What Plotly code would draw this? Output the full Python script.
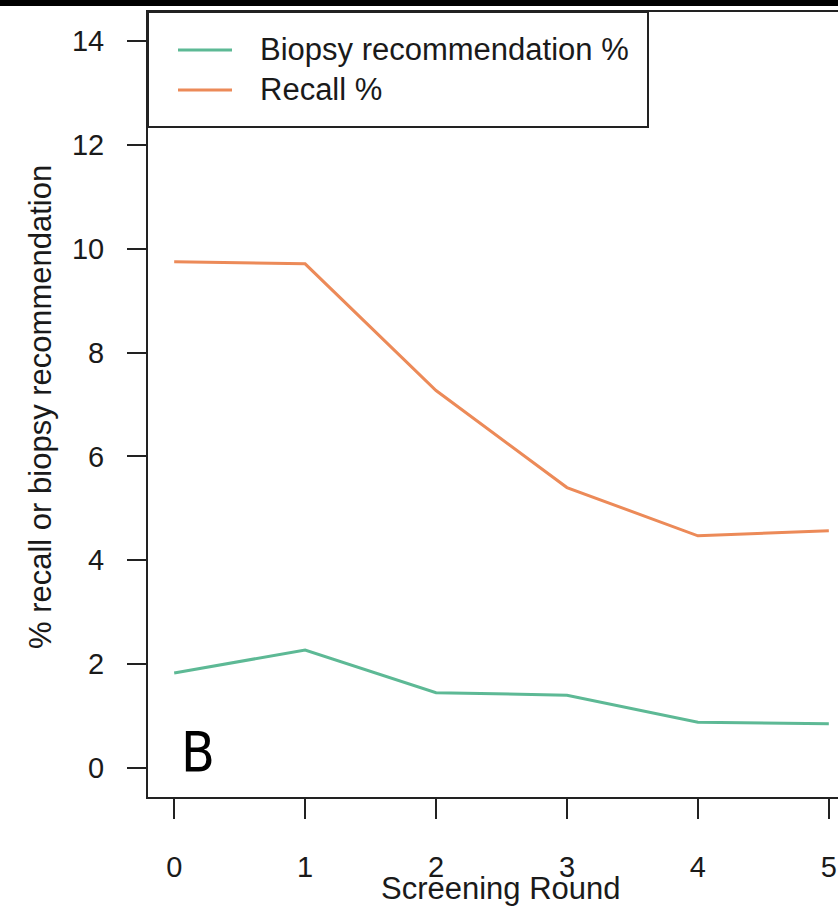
import plotly.graph_objects as go

rounds = [0, 1, 2, 3, 4, 5]
biopsy_pct = [1.83, 2.27, 1.45, 1.40, 0.88, 0.85]
recall_pct = [9.75, 9.71, 7.27, 5.40, 4.47, 4.57]
series_names = ["Biopsy recommendation %", "Recall %"]
series_colors = ["#5db995", "#ec8a58"]
y_ticks = [0, 2, 4, 6, 8, 10, 12, 14]
x_ticks = [0, 1, 2, 3, 4, 5]

FONT = "Liberation Sans, Arial, Helvetica, sans-serif"
W = 690.0   # plot area width in px
H = 785.0   # plot area height in px

fig = go.Figure()
for name, vals, col in zip(series_names, [biopsy_pct, recall_pct], series_colors):
    fig.add_trace(go.Scatter(x=rounds, y=vals, mode="lines", name=name,
                             line=dict(color=col, width=3), showlegend=False))

fig.update_layout(
    width=838, height=906,
    margin=dict(l=148, r=0, t=12, b=109, autoexpand=False),
    paper_bgcolor="white", plot_bgcolor="white",
    font=dict(family=FONT, size=29, color="#1a1a1a"),
    xaxis=dict(range=[-0.2, 5.07], tickvals=x_ticks, showgrid=False, zeroline=False,
               automargin=False,
               showline=True, linecolor="#222", linewidth=2, mirror=True,
               ticks="outside", ticklen=20, tickwidth=2, tickcolor="#222",
               ticklabelstandoff=23),
    yaxis=dict(range=[-0.56, 14.56], tickvals=y_ticks, showgrid=False, zeroline=False,
               automargin=False,
               showline=True, linecolor="#222", linewidth=2,
               ticks="outside", ticklen=19, tickwidth=2, tickcolor="#222",
               ticklabelstandoff=17),
)

# axis titles
fig.add_annotation(xref="paper", yref="paper", x=(501 - 148) / W, y=-91 / H,
                   text="Screening Round", showarrow=False,
                   xanchor="center", yanchor="middle",
                   font=dict(size=31, family=FONT, color="#1a1a1a"))
fig.add_annotation(xref="paper", yref="paper", x=(40 - 148) / W, y=1 - (407 - 12) / H,
                   text="% recall or biopsy recommendation", showarrow=False, textangle=-90,
                   xanchor="center", yanchor="middle",
                   font=dict(size=31, family=FONT, color="#1a1a1a"))

# black strip at the very top of the image
fig.add_shape(type="rect", xref="paper", yref="paper", x0=-0.3, x1=1.0,
              y0=1 + 6/H, y1=1 + 12/H, fillcolor="black", line_width=0, layer="above")

# legend box (manual, R-style)
fig.add_shape(type="rect", xref="paper", yref="paper",
              x0=0, x1=500/W, y0=1 - 115/H, y1=1,
              line=dict(color="#222", width=2), fillcolor="white", layer="above")
for i, (name, col) in enumerate(zip(series_names, series_colors)):
    ypix = 38 + 40*i
    yy = 1 - ypix/H
    fig.add_shape(type="line", xref="paper", yref="paper",
                  x0=30/W, x1=84/W, y0=yy, y1=yy,
                  line=dict(color=col, width=3), layer="above")
    fig.add_annotation(xref="paper", yref="paper", x=110/W, y=yy, text=name,
                       showarrow=False, xanchor="left", yanchor="middle",
                       font=dict(size=31, family=FONT, color="#1a1a1a"))

fig.add_annotation(xref="paper", yref="paper", x=31/W, y=1 - 740/H, text="B",
                   showarrow=False, xanchor="left", yanchor="middle",
                   font=dict(size=55, family="Liberation Sans Narrow, DejaVu Sans Condensed, sans-serif",
                             color="black"))

fig.write_html("out.html",
               config={"displayModeBar": False},
               post_script="document.body.style.margin='0';"
                           "document.documentElement.style.overflow='hidden';")
